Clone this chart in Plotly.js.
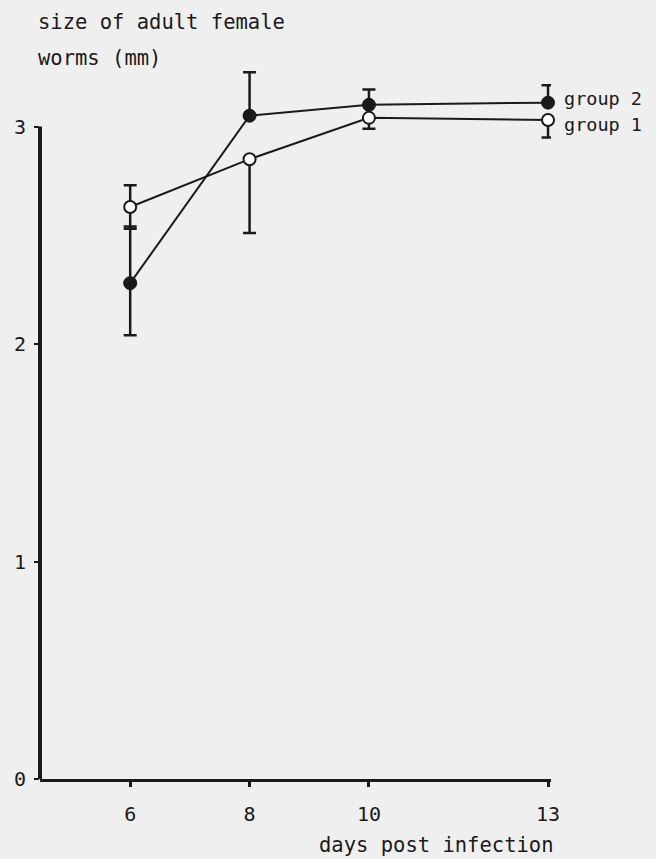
<!DOCTYPE html>
<html>
<head>
<meta charset="utf-8">
<script src="https://cdn.plot.ly/plotly-3.0.1.min.js"></script>
<style>
  html, body { margin: 0; padding: 0; background: #efefef; }
  #chart { width: 656px; height: 859px; }
</style>
</head>
<body>
<div id="chart"></div>
<script>
// Data
const days = [6, 8, 10, 13];
const dayLabels = ['6', '8', '10', '13'];

const group1Mean = [2.63, 2.85, 3.04, 3.03];
const group1ErrUp = [0.10, 0, 0, 0];
const group1ErrDown = [0.10, 0.34, 0.05, 0.08];

const group2Mean = [2.28, 3.05, 3.10, 3.11];
const group2ErrUp = [0.26, 0.20, 0.07, 0.08];
const group2ErrDown = [0.24, 0, 0, 0];

const yTicks = [0, 1, 2, 3];
const yTickLabels = ['0', '1', '2', '3'];
const seriesNames = ['group 1', 'group 2'];

const FONT = 'DejaVu Sans Mono, Liberation Mono, monospace';
const INK = '#1a1a1a';
const BG = '#efefef';

const traces = [
  {
    x: days, y: group1Mean, name: seriesNames[0],
    type: 'scatter', mode: 'lines+markers',
    line: {color: INK, width: 2},
    marker: {size: 12, color: '#ffffff', line: {color: INK, width: 2}},
    error_y: {type: 'data', symmetric: false, array: group1ErrUp, arrayminus: group1ErrDown,
              color: INK, thickness: 2.5, width: 6.5},
    cliponaxis: false
  },
  {
    x: days, y: group2Mean, name: seriesNames[1],
    type: 'scatter', mode: 'lines+markers',
    line: {color: INK, width: 2},
    marker: {size: 13, color: INK, line: {color: INK, width: 1}},
    error_y: {type: 'data', symmetric: false, array: group2ErrUp, arrayminus: group2ErrDown,
              color: INK, thickness: 2.5, width: 6.5},
    cliponaxis: false
  }
];

const last = days.length - 1;

const layout = {
  width: 656, height: 859,
  margin: {l: 0, r: 0, t: 0, b: 0},
  paper_bgcolor: BG, plot_bgcolor: BG,
  showlegend: false,
  font: {family: FONT, color: INK, size: 20},
  xaxis: {
    domain: [40 / 656, 551 / 656],
    range: [4.489, 13.05],
    tickvals: days, ticktext: dayLabels,
    showline: true, linecolor: INK, linewidth: 3,
    ticks: 'outside', ticklen: 5, tickwidth: 3, tickcolor: INK,
    showgrid: false, zeroline: false,
    ticklabelstandoff: 10,
    tickfont: {family: FONT, size: 20, color: INK}
  },
  yaxis: {
    domain: [(859 - 779) / 859, (859 - 40) / 859],
    range: [0, 3.398],
    tickvals: yTicks, ticktext: yTickLabels,
    showline: false,
    ticks: 'outside', ticklen: 5, tickwidth: 2, tickcolor: INK,
    showgrid: false, zeroline: false,
    ticklabelstandoff: 4,
    tickfont: {family: FONT, size: 20, color: INK}
  },
  shapes: [
    {type: 'line', xref: 'x domain', yref: 'y', x0: 0, x1: 0, y0: 0, y1: 3,
     line: {color: INK, width: 4}}
  ],
  annotations: [
    {text: 'size of adult female', xref: 'paper', yref: 'paper',
     x: 36 / 656, y: (859 - 22) / 859, xanchor: 'left', yanchor: 'middle',
     showarrow: false, font: {family: FONT, size: 20.5, color: INK}},
    {text: 'worms (mm)', xref: 'paper', yref: 'paper',
     x: 36 / 656, y: (859 - 58) / 859, xanchor: 'left', yanchor: 'middle',
     showarrow: false, font: {family: FONT, size: 20.5, color: INK}},
    {text: 'days post infection', xref: 'paper', yref: 'paper',
     x: 556 / 656, y: (859 - 845) / 859, xanchor: 'right', yanchor: 'middle',
     showarrow: false, font: {family: FONT, size: 20.5, color: INK}},
    {text: seriesNames[1], xref: 'x', yref: 'y',
     x: days[last], y: group2Mean[last], xanchor: 'left', yanchor: 'middle',
     xshift: 14, yshift: 4, showarrow: false,
     font: {family: FONT, size: 18.5, color: INK}},
    {text: seriesNames[0], xref: 'x', yref: 'y',
     x: days[last], y: group1Mean[last], xanchor: 'left', yanchor: 'middle',
     xshift: 14, yshift: -4, showarrow: false,
     font: {family: FONT, size: 18.5, color: INK}}
  ]
};

Plotly.newPlot('chart', traces, layout, {displayModeBar: false, staticPlot: true});
</script>
</body>
</html>
